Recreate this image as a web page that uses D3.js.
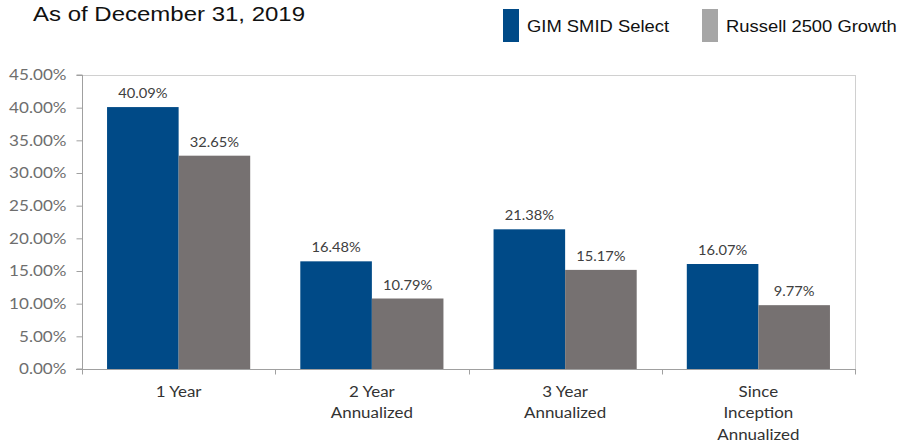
<!DOCTYPE html>
<html>
<head>
<meta charset="utf-8">
<script src="https://cdn.jsdelivr.net/npm/d3@7"></script>
<style>
  html, body { margin: 0; padding: 0; background: #fff; }
  svg { display: block; }
</style>
</head>
<body>
<svg id="chart" width="905" height="444"></svg>
<script>
const categories = [["1 Year"], ["2 Year", "Annualized"], ["3 Year", "Annualized"], ["Since", "Inception", "Annualized"]];
const seriesNames = ["GIM SMID Select", "Russell 2500 Growth"];
const gimValues = [40.09, 16.48, 21.38, 16.07];
const russellValues = [32.65, 10.79, 15.17, 9.77];
const yTicks = [0, 5, 10, 15, 20, 25, 30, 35, 40, 45];
const titleText = "As of December 31, 2019";

const barColors = ["#004A87", "#767171"];
const legendColors = ["#004A87", "#A6A6A6"];

const svg = d3.select("#chart");
const x0 = 82, x1 = 855, yTop = 75, yBot = 369;
const calibriLike = "Lato, 'Open Sans', sans-serif";
const arialLike = "'Liberation Sans', Arial, sans-serif";

const catIdx = categories.map((d, i) => i);
const x = d3.scaleBand().domain(catIdx).range([x0, x1]).padding(0);
const xs = d3.scaleBand().domain(seriesNames).range([0, x.bandwidth()]).paddingInner(0).paddingOuter(0.35);
const y = d3.scaleLinear().domain([0, 45]).range([yBot, yTop]);

// frame (top and right)
svg.append("line").attr("x1", x0).attr("x2", x1).attr("y1", yTop + 0.5).attr("y2", yTop + 0.5)
  .attr("stroke", "#D0D0D0").attr("stroke-width", 1);
svg.append("line").attr("x1", x1 + 0.5).attr("x2", x1 + 0.5).attr("y1", yTop).attr("y2", yBot)
  .attr("stroke", "#D0D0D0").attr("stroke-width", 1);

// bars
const data = catIdx.map(i => [gimValues[i], russellValues[i]]);
const groups = svg.append("g").selectAll("g").data(data).join("g")
  .attr("transform", (d, i) => `translate(${x(i)},0)`);
groups.selectAll("rect").data(d => d.map((v, j) => ({ v, s: seriesNames[j], j })))
  .join("rect")
  .attr("x", d => xs(d.s))
  .attr("width", xs.bandwidth())
  .attr("y", d => y(d.v))
  .attr("height", d => y(0) - y(d.v))
  .attr("fill", d => barColors[d.j]);
groups.selectAll("text").data(d => d.map((v, j) => ({ v, s: seriesNames[j], j })))
  .join("text")
  .attr("transform", d => `translate(${xs(d.s) + xs.bandwidth() / 2},${y(d.v) - 9}) scale(1.13,1)`)
  .attr("text-anchor", "middle")
  .attr("font-family", calibriLike)
  .attr("font-size", 13)
  .attr("fill", "#404040")
  .text(d => d.v.toFixed(2) + "%");

// y axis
const yAxis = d3.axisLeft(y).tickValues(yTicks).tickSize(6).tickPadding(9)
  .tickFormat(d => d.toFixed(2) + "%");
const gy = svg.append("g").attr("transform", `translate(${x0 + 0.5},0)`).call(yAxis);
gy.select(".domain").attr("stroke", "#A0A0A0").attr("d", `M-6,${yTop}H0V${yBot}H-6`);
gy.selectAll(".tick line").attr("stroke", "#A0A0A0");
gy.selectAll(".tick text").attr("x", 0).attr("transform", "translate(-16,0) scale(1.14,1)")
  .attr("font-family", calibriLike)
  .attr("font-size", 15).attr("fill", "#6E6E6E");

// x axis
const xTickScale = d3.scaleLinear().domain([0, 4]).range([x0, x1]);
const gx = svg.append("g").attr("transform", `translate(0,${yBot + 0.5})`);
gx.append("line").attr("x1", x0 - 6).attr("x2", x1 + 1).attr("stroke", "#A0A0A0");
gx.selectAll("line.t").data(d3.range(5)).join("line").attr("class", "t")
  .attr("x1", d => Math.round(xTickScale(d)) + 0.5).attr("x2", d => Math.round(xTickScale(d)) + 0.5)
  .attr("y1", 0).attr("y2", 5).attr("stroke", "#A0A0A0");
const labels = gx.selectAll("text").data(categories).join("text")
  .attr("transform", (d, i) => `translate(${x(i) + x.bandwidth() / 2},27) scale(1.06,1)`)
  .attr("text-anchor", "middle")
  .attr("font-family", calibriLike)
  .attr("font-size", 16)
  .attr("fill", "#333333");
labels.selectAll("tspan").data(d => d).join("tspan")
  .attr("x", 0)
  .attr("dy", (d, i) => i === 0 ? 0 : 22)
  .text(d => d);

// title
svg.append("text").attr("transform", "translate(33,21) scale(1.2,1)")
  .attr("font-family", arialLike)
  .attr("font-size", 20).attr("fill", "#111")
  .text(titleText);

// legend
const legendX = [503, 702];
const lg = svg.append("g").selectAll("g").data(seriesNames).join("g")
  .attr("transform", (d, i) => `translate(${legendX[i]},0)`);
lg.append("rect").attr("x", 0).attr("y", 9).attr("width", 16).attr("height", 33)
  .attr("fill", (d, i) => legendColors[i]);
lg.append("text").attr("transform", "translate(24,32) scale(1.15,1)")
  .attr("font-family", arialLike)
  .attr("font-size", 16).attr("fill", "#111")
  .text(d => d);
</script>
</body>
</html>
